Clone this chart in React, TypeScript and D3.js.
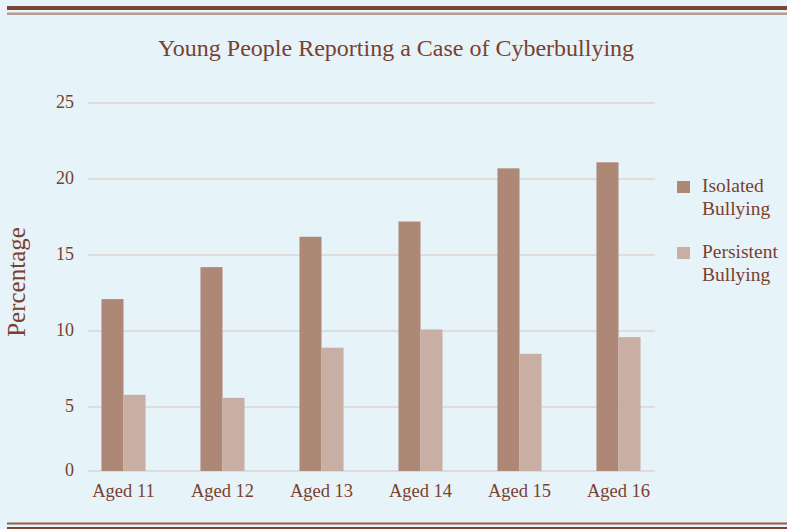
import React from "react";
import * as d3 from "d3";

const categories = ["Aged 11", "Aged 12", "Aged 13", "Aged 14", "Aged 15", "Aged 16"];
const seriesNames = ["Isolated Bullying", "Persistent Bullying"];
const isolated = [12.1, 14.2, 16.2, 17.2, 20.7, 21.1];
const persistent = [5.8, 5.6, 8.9, 10.1, 8.5, 9.6];
const yTicks = [5, 10, 15, 20, 25];

const W = 787;
const H = 529;
const BG = "#E6F3F9";
const TEXT = "#7B3F2E";
const C_ISO = "#AD8877";
const C_PER = "#C9AFA3";
const GRID = "#DDD6D2";
const FONT = "'Liberation Serif', 'DejaVu Serif', serif";

export default function App() {
  const y = d3.scaleLinear().domain([0, 25]).range([483, 103]);
  const baseline = 471;
  const x0 = d3.scaleBand<string>().domain(categories).range([74, 668]).paddingInner(0.555).paddingOuter(0.2775);
  const x1 = d3.scaleBand<string>().domain(seriesNames).range([0, x0.bandwidth()]);
  const colors = [C_ISO, C_PER];
  const series = [isolated, persistent];

  return (
    <div style={{ position: "fixed", left: 0, top: 0, width: W, height: H, background: BG }}>
      <svg width={W} height={H} style={{ display: "block" }}>
        <rect x={0} y={0} width={W} height={H} fill={BG} />
        <rect x={7} y={6} width={W - 7} height={4} fill="#7A4535" />
        <rect x={7} y={12.5} width={W - 7} height={2.5} fill="#B59A90" />
        <rect x={7} y={522.5} width={W - 7} height={2} fill="#9C5A48" />
        <rect x={7} y={527} width={W - 7} height={2} fill="#7A4535" />

        <text x={396} y={56} textAnchor="middle" fontFamily={FONT} fontSize={24} fill={TEXT}>
          Young People Reporting a Case of Cyberbullying
        </text>

        {yTicks.map((t) => (
          <g key={t}>
            <line x1={88} x2={655} y1={y(t)} y2={y(t)} stroke={GRID} strokeWidth={1.5} />
            <text x={74} y={y(t) + 5} textAnchor="end" fontFamily={FONT} fontSize={18} fill={TEXT}>
              {t}
            </text>
          </g>
        ))}
        <line x1={88} x2={655} y1={baseline} y2={baseline} stroke={GRID} strokeWidth={1.5} />
        <text x={74} y={baseline + 5} textAnchor="end" fontFamily={FONT} fontSize={18} fill={TEXT}>
          0
        </text>

        <text
          transform={`translate(25, 282) rotate(-90)`}
          textAnchor="middle"
          fontFamily={FONT}
          fontSize={25}
          fill={TEXT}
        >
          Percentage
        </text>

        {categories.map((c, i) => (
          <g key={c} transform={`translate(${x0(c)},0)`}>
            {seriesNames.map((s, j) => (
              <rect
                key={s}
                x={x1(s)}
                y={y(series[j][i])}
                width={x1.bandwidth()}
                height={baseline - y(series[j][i])}
                fill={colors[j]}
              />
            ))}
            <text x={x0.bandwidth() / 2} y={497} textAnchor="middle" fontFamily={FONT} fontSize={18.5} fill={TEXT}>
              {c}
            </text>
          </g>
        ))}

        {seriesNames.map((s, j) => {
          const [a, b] = s.split(" ");
          const top = 181 + j * 66;
          return (
            <g key={s}>
              <rect x={677} y={top} width={13} height={12} fill={colors[j]} />
              <text x={702} y={top + 11} fontFamily={FONT} fontSize={19.5} fill={TEXT}>
                {a}
              </text>
              <text x={702} y={top + 34} fontFamily={FONT} fontSize={19.5} fill={TEXT}>
                {b}
              </text>
            </g>
          );
        })}
      </svg>
    </div>
  );
}
